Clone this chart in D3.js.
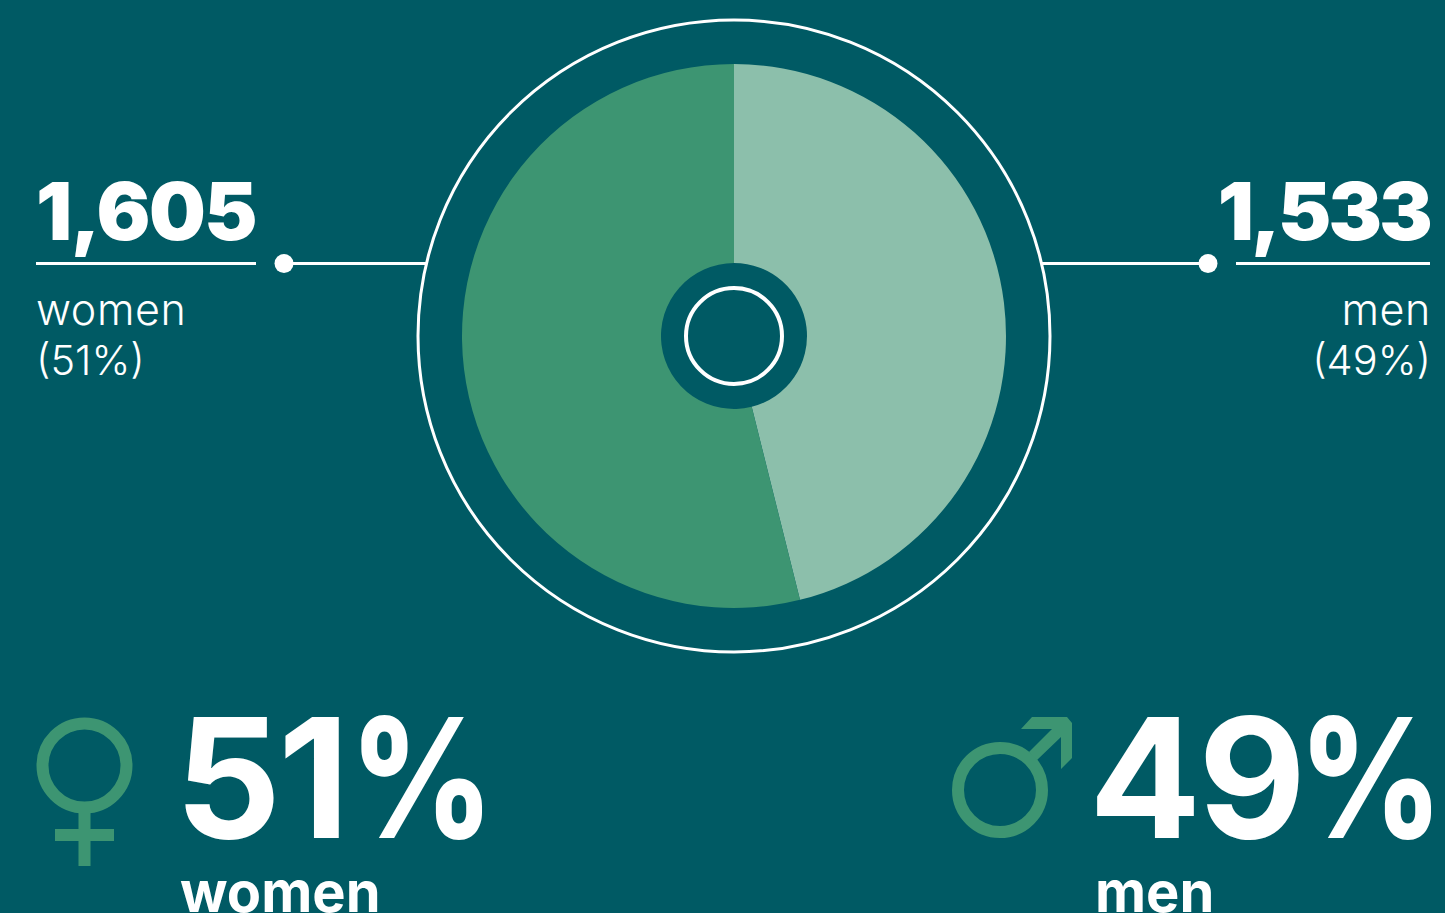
<!DOCTYPE html>
<html>
<head>
<meta charset="utf-8">
<script src="https://cdn.jsdelivr.net/npm/d3@7"></script>
<style>
html, body { margin: 0; padding: 0; background: #005a64; overflow: hidden; }
text { font-family: Inter, "Liberation Sans", sans-serif; fill: #ffffff; }
</style>
</head>
<body>
<script>
//values printed on the chart
const categories = ["men", "women"];
const counts = [1533, 1605];
const percents = [49, 51];
//the wedge in the picture is not cut at 49/51, these are the shares as drawn
const drawnShares = [46.1, 53.9];
const sliceColors = ["#8cbfab", "#3d9572"];

const green = "#3d9572";
const cx = 734, cy = 336;

const svg = d3.select("body").append("svg")
              .attr("width", 1445)
              .attr("height", 913)
              .style("display", "block");

const pie = d3.pie().sort(null)(drawnShares);
const arc = d3.arc().innerRadius(73).outerRadius(272);

//the doughnut
svg.selectAll(".slice")
   .data(pie)
   .join("path")
   .attr("class", "slice")
   .attr("transform", `translate(${cx},${cy})`)
   .attr("d", arc)
   .attr("fill", (d, i) => sliceColors[i]);

//outer ring and centre ring
svg.selectAll(".ring")
   .data([{r: 316, w: 3}, {r: 48, w: 4}])
   .join("circle")
   .attr("class", "ring")
   .attr("cx", cx)
   .attr("cy", cy)
   .attr("r", d => d.r)
   .attr("fill", "none")
   .attr("stroke", "#ffffff")
   .attr("stroke-width", d => d.w);

//callouts, one per side
const lineY = 263.5;
const callouts = [
  {i: 1, anchor: "start", x: 36, labelX: 36, spacing: -1.5, rule: [36, 256], dot: 284, lead: [284, 427]},
  {i: 0, anchor: "end", x: 1430, labelX: 1431, spacing: -2.8, rule: [1236, 1430], dot: 1208, lead: [1042, 1208]}
];

callouts.forEach(c => {
  svg.append("text")
     .attr("x", c.x)
     .attr("y", 240)
     .attr("text-anchor", c.anchor)
     .attr("font-size", 80)
     .attr("font-weight", 900)
     .attr("letter-spacing", c.spacing)
     .text(d3.format(",")(counts[c.i]));

  [c.rule, c.lead].forEach(l => {
    svg.append("line")
       .attr("x1", l[0]).attr("x2", l[1])
       .attr("y1", lineY).attr("y2", lineY)
       .attr("stroke", "#ffffff")
       .attr("stroke-width", 3);
  });

  svg.append("circle")
     .attr("cx", c.dot)
     .attr("cy", lineY)
     .attr("r", 9.5)
     .attr("fill", "#ffffff");

  svg.append("text")
     .attr("x", c.labelX)
     .attr("y", 324.5)
     .attr("text-anchor", c.anchor)
     .attr("font-size", 43)
     .attr("font-weight", 350)
     .attr("letter-spacing", 0.6)
     .text(categories[c.i]);

  svg.append("text")
     .attr("x", c.labelX)
     .attr("y", 375)
     .attr("text-anchor", c.anchor)
     .attr("font-size", 41.5)
     .attr("font-weight", 350)
     .text("(" + percents[c.i] + "%)");
});

//big numbers at the bottom, the % sign is narrower than the font's own
const bottoms = [
  {i: 1, x: 175, signX: 350, wordX: 180},
  {i: 0, x: 1089, signX: 1299, wordX: 1095}
];

bottoms.forEach(b => {
  svg.append("text")
     .attr("x", b.x)
     .attr("y", 838)
     .attr("font-size", 166)
     .attr("font-weight", 700)
     .attr("letter-spacing", -3)
     .text(percents[b.i]);

  svg.append("text")
     .attr("transform", `translate(${b.signX},838) scale(0.84,1)`)
     .attr("font-size", 166)
     .attr("font-weight", 800)
     .text("%");

  svg.append("text")
     .attr("x", b.wordX)
     .attr("y", 912)
     .attr("font-size", 56)
     .attr("font-weight", 700)
     .text(categories[b.i]);
});

//female sign
const female = svg.append("g").attr("fill", "none").attr("stroke", green).attr("stroke-width", 12);
female.append("circle").attr("cx", 84.5).attr("cy", 765.5).attr("r", 42);
female.append("path").attr("d", "M84.5,813V866M55,835H114");

//male sign
const male = svg.append("g");
male.append("circle")
    .attr("cx", 1000).attr("cy", 790).attr("r", 42)
    .attr("fill", "none").attr("stroke", green).attr("stroke-width", 12);
male.append("path")
    .attr("fill", green)
    .attr("d", "M1021,729L1032,717L1067,717L1072,723L1072,758L1061,769L1061,737L1037,760L1029,752L1052,729Z");
</script>
</body>
</html>
